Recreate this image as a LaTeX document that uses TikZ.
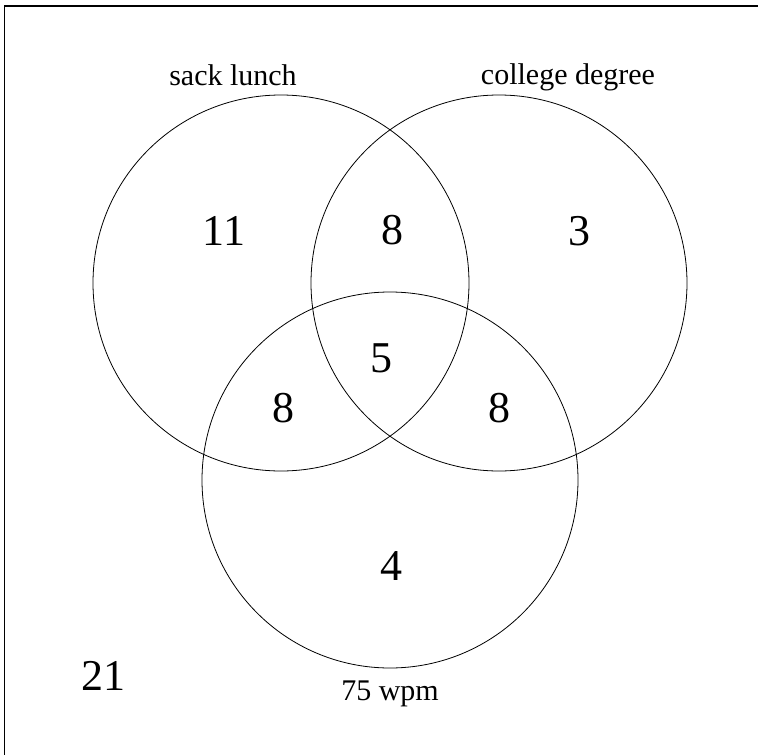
\documentclass[tikz,border=0pt]{standalone}
\usepackage{fontspec}
\setmainfont{Liberation Serif}
\begin{document}
\begin{tikzpicture}[x=1pt,y=-1pt,
  setcircle/.style={circle,draw,line width=0.8pt,minimum size=376pt,inner sep=0pt},
  num/.style={anchor=base,inner sep=0pt,font=\fontsize{44}{48}\selectfont},
  lbl/.style={anchor=base,inner sep=0pt,font=\fontsize{30}{34}\selectfont}]
\useasboundingbox (0,0) rectangle (758,755);
\draw[line width=1.3pt] (4.5,755) -- (4.5,6) -- (758,6);
\node[setcircle] (A) at (281,283) {};
\node[setcircle] (B) at (499,283) {};
\node[setcircle] (C) at (390,480) {};
\node[lbl] (la) at (233,85) {sack lunch};
\node[lbl] (lb) at (568,84) {college degree};
\node[lbl] (lc) at (390,700) {75 wpm};
\node[num] (nA) at (224,245) {11};
\node[num] (nAB) at (392,244) {8};
\node[num] (nB) at (579,245) {3};
\node[num] (nABC) at (381,372) {5};
\node[num] (nAC) at (283,422) {8};
\node[num] (nBC) at (499,422) {8};
\node[num] (nC) at (391,580) {4};
\node[num] (nO) at (103,690) {21};
\end{tikzpicture}
\end{document}
